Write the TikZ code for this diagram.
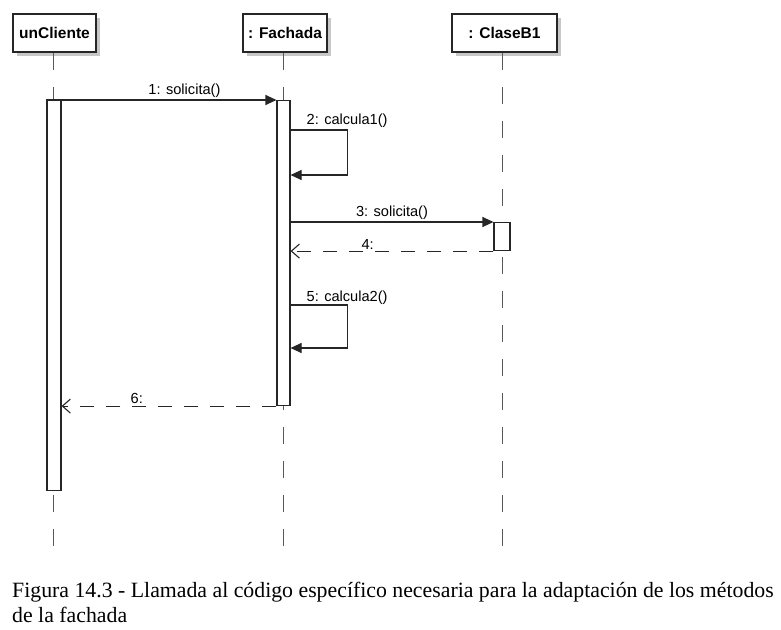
\documentclass[tikz,border=0pt]{standalone}
\usepackage{fontspec}
\setmainfont{Liberation Serif}
\setsansfont{Liberation Sans}
\usetikzlibrary{arrows.meta,shadows}

\begin{document}
\begin{tikzpicture}[x=1pt,y=-1pt,
  objbox/.style={draw=black!85,line width=1.3pt,fill=white,minimum height=38pt,
    font=\sffamily\bfseries\fontsize{15.5}{17}\selectfont,
    drop shadow={shadow xshift=4pt,shadow yshift=-4pt,fill=black!22,opacity=1}},
  actbar/.style={draw=black!85,line width=1.1pt,fill=white,anchor=north,inner sep=0pt},
  lifeline/.style={draw=black!65,line width=1pt,dash pattern=on 17pt off 17pt},
  call/.style={draw=black!85,line width=1.1pt,-{Triangle[length=11pt,width=10pt]}},
  reply/.style={draw=black!85,line width=1.1pt,dash pattern=on 14pt off 12pt,
    -{Straight Barb[length=8pt,width=14pt]}},
  msg/.style={font=\sffamily\fontsize{14.6}{16}\selectfont,inner sep=1.5pt}]
\useasboundingbox (0,0) rectangle (781,629);

% Objects
\node[objbox,minimum width=83pt] (cli) at (54.5,33) {unCliente};
\node[objbox,minimum width=84pt] (fac) at (285,33) {: Fachada};
\node[objbox,minimum width=105pt] (clb) at (504.5,33) {: ClaseB1};

% Lifelines
\coordinate (cliEnd) at (53,547);
\coordinate (facEnd) at (283,547);
\coordinate (clbEnd) at (502,547);
\draw[lifeline] (cli.south -| cliEnd) -- (cliEnd);
\draw[lifeline] (fac.south -| facEnd) -- (facEnd);
\draw[lifeline] (clb.south -| clbEnd) -- (clbEnd);

% Activation bars
\node[actbar,minimum width=14pt,minimum height=390pt] (cliAct) at (54,100) {};
\node[actbar,minimum width=13pt,minimum height=305pt] (facAct) at (283.5,100) {};
\node[actbar,minimum width=16pt,minimum height=28pt] (clbAct) at (502,222) {};

% Messages
\draw[call] (cliAct.north west) -- (facAct.north west)
  node[msg,above,pos=0.6] {1: solicita()};

\draw[call] ([yshift=-30pt]facAct.north east) -- ++(57,0) -- ++(0,45) -- ++(-57,0);
\node[msg,anchor=base west] (m2) at (305,124) {2: calcula1()};

\draw[call] ([yshift=-122pt]facAct.north east) -- (clbAct.north west)
  node[msg,above,midway] {3: solicita()};
\draw[reply] (clbAct.south west) -- (facAct.east |- clbAct.south)
  node[msg,above,pos=0.62] {4:};

\draw[call] ([yshift=-205pt]facAct.north east) -- ++(57,0) -- ++(0,43) -- ++(-57,0);
\node[msg,anchor=base west] (m5) at (305,301) {5: calcula2()};

\draw[reply] (facAct.south west) -- (cliAct.east |- facAct.south)
  node[msg,above,pos=0.65] {6:};

% Caption
\node[anchor=base west,align=left,inner sep=0pt,font=\fontsize{21.8}{25}\selectfont] (cap) at (12,622)
  {Figura 14.3 - Llamada al código específico necesaria para la adaptación de los métodos\\de la fachada};
\end{tikzpicture}
\end{document}
